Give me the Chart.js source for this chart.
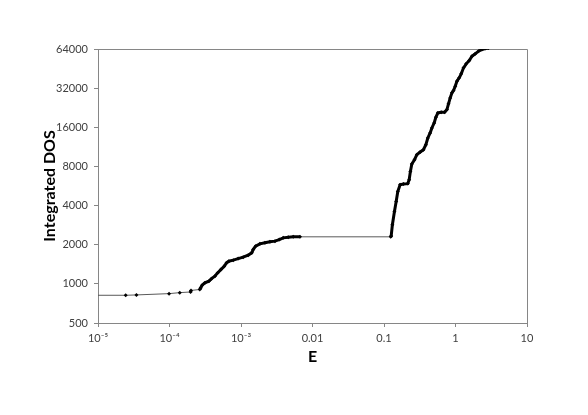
<!DOCTYPE html>
<html>
<head>
<meta charset="utf-8">
<script src="https://cdn.jsdelivr.net/npm/chart.js@4/dist/chart.umd.min.js"></script>
<style>
  html, body { margin: 0; padding: 0; background: #fff; }
  #wrap { width: 588px; height: 415px; }
</style>
</head>
<body>
<div id="wrap"><canvas id="c" width="588" height="415"></canvas></div>
<script>
// ---- data ----
const energies = [
  5e-6, 2.44e-5, 3.45e-5, 9.87e-5, 1.39e-4, 1.97e-4, 2.0e-4, 2.65e-4, 2.72e-4, 2.86e-4,
  3.12e-4, 3.55e-4, 3.87e-4, 4.31e-4, 4.70e-4, 5.23e-4, 5.82e-4, 6.29e-4, 6.77e-4, 7.78e-4,
  9.14e-4, 1.07e-3, 1.26e-3, 1.41e-3, 1.48e-3, 1.60e-3, 1.84e-3, 2.16e-3, 2.54e-3, 2.98e-3,
  3.43e-3, 3.90e-3, 4.58e-3, 5.38e-3, 6.68e-3,
  0.124, 0.126, 0.131, 0.140, 0.148, 0.156, 0.168, 0.187, 0.215, 0.225,
  0.234, 0.245, 0.267, 0.288, 0.321, 0.356, 0.385, 0.410, 0.442, 0.467,
  0.503, 0.531, 0.567, 0.631, 0.702, 0.759, 0.798, 0.843, 0.891, 0.938,
  0.991, 1.047, 1.127, 1.202, 1.295, 1.412, 1.556, 1.698, 1.889, 2.099,
  2.344, 2.606, 2.897
];
const integratedDOS = [
  817, 817, 822, 841, 856, 866, 890, 905, 930, 976,
  1017, 1048, 1097, 1145, 1214, 1287, 1367, 1450, 1494, 1521,
  1565, 1604, 1662, 1731, 1835, 1950, 2031, 2068, 2104, 2130,
  2192, 2259, 2287, 2300, 2300,
  2300, 2330, 2845, 3602, 4301, 5137, 5784, 5857, 5900, 6320,
  7326, 8352, 9013, 9849, 10333, 10764, 11762, 13243, 14470, 15814,
  17283, 19090, 20640, 20865, 20900, 21886, 24220, 26927, 29429, 30656,
  33096, 36156, 38400, 41240, 45855, 49217, 52200, 56340, 58770, 61570,
  63430, 64580, 65000
];
const xTickValues = [1e-5, 1e-4, 1e-3, 0.01, 0.1, 1, 10];
const xTickLabels = ['10\u207B\u2075', '10\u207B\u2074', '10\u207B\u00B3', '0.01', '0.1', '1', '10'];
const yTickValues = [500, 1000, 2000, 4000, 8000, 16000, 32000, 64000];
const yTickLabels = ['500', '1000', '2000', '4000', '8000', '16000', '32000', '64000'];
const xTitle = 'E';
const yTitle = 'Integrated DOS';

// ---- chart ----
const points = energies.map((e, i) => ({ x: e, y: integratedDOS[i] }));
const AXIS = '#868686';
const FONT = 'Lato, "Open Sans", sans-serif';

const framePlugin = {
  id: 'frame',
  beforeDatasetsDraw(chart) {
    const { ctx, chartArea: a } = chart;
    ctx.save();
    ctx.strokeStyle = AXIS;
    ctx.lineWidth = 1;
    ctx.beginPath();
    ctx.moveTo(a.left, a.top + 0.5);
    ctx.lineTo(a.right + 0.5, a.top + 0.5);
    ctx.lineTo(a.right + 0.5, a.bottom);
    ctx.stroke();
    ctx.restore();
  }
};

function isFlatLong(c) {
  const dx = Math.abs(c.p1.x - c.p0.x), dy = Math.abs(c.p1.y - c.p0.y);
  return dx > 8 && dy < 3;
}

new Chart(document.getElementById('c'), {
  type: 'line',
  data: {
    datasets: [{
      data: points,
      showLine: true,
      borderColor: '#000',
      borderWidth: 3,
      tension: 0,
      pointRadius: 2,
      pointHoverRadius: 2,
      pointStyle: 'rectRot',
      pointBackgroundColor: '#000',
      pointBorderWidth: 0,
      segment: {
        borderWidth: c => isFlatLong(c) ? 1 : 3,
        borderColor: c => isFlatLong(c) ? '#595959' : '#000'
      }
    }]
  },
  options: {
    responsive: false,
    animation: false,
    devicePixelRatio: 1,
    layout: { padding: { left: 0, right: 61, top: 49, bottom: 0 } },
    plugins: { legend: { display: false }, tooltip: { enabled: false } },
    scales: {
      x: {
        type: 'logarithmic',
        min: 1e-5, max: 10,
        afterBuildTicks: s => { s.ticks = xTickValues.map(v => ({ value: v })); },
        afterFit: s => { s.height = 92; },
        grid: { display: true, drawOnChartArea: false, drawTicks: true, tickLength: 4, color: AXIS },
        border: { display: true, color: AXIS },
        ticks: {
          autoSkip: false, maxRotation: 0, padding: 5,
          color: '#404040', font: { family: FONT, size: 11 },
          callback: (v) => xTickLabels[xTickValues.indexOf(v)] ?? ''
        },
        title: { display: true, text: xTitle, color: '#000',
          font: { family: FONT, size: 16, weight: 'bold' }, padding: { top: 0, bottom: 49 } }
      },
      y: {
        type: 'logarithmic',
        min: 500, max: 64000,
        afterBuildTicks: s => { s.ticks = yTickValues.map(v => ({ value: v })); },
        afterFit: s => { s.width = 98; },
        grid: { display: true, drawOnChartArea: false, drawTicks: true, tickLength: 4, color: AXIS },
        border: { display: true, color: AXIS },
        ticks: {
          autoSkip: false, padding: 6,
          color: '#404040', font: { family: FONT, size: 11 },
          callback: (v) => yTickLabels[yTickValues.indexOf(v)] ?? ''
        },
        title: { display: true, text: yTitle, color: '#000',
          font: { family: FONT, size: 16, weight: 'bold' }, padding: { top: 40, bottom: 0 } }
      }
    }
  },
  plugins: [framePlugin]
});
</script>
</body>
</html>
